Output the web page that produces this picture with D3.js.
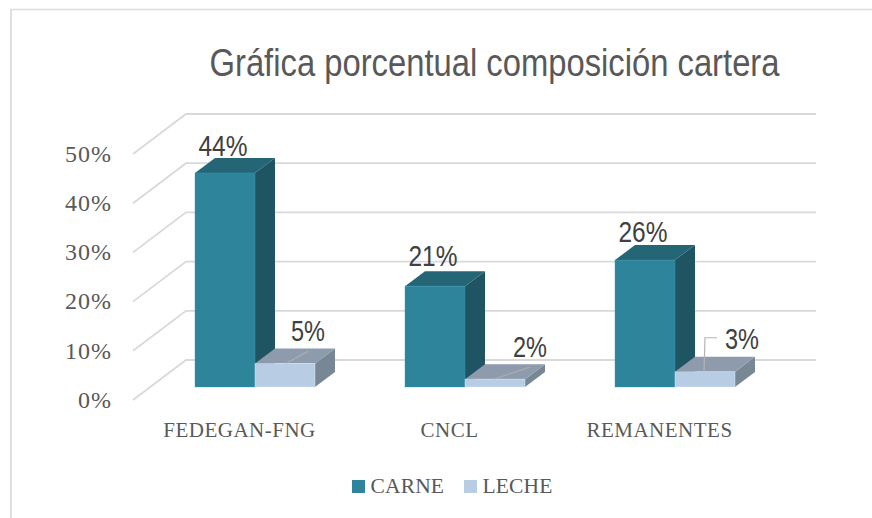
<!DOCTYPE html>
<html><head><meta charset="utf-8">
<script src="https://cdn.jsdelivr.net/npm/d3@7"></script>
<style>html,body{margin:0;padding:0;background:#fff}svg{display:block}</style>
</head><body><svg id="c" width="872" height="518"></svg>
<script>
const categories = ["FEDEGAN-FNG", "CNCL", "REMANENTES"];
const carne = [43.5, 20.5, 25.8];
const leche = [4.8, 1.6, 3.1];
const yTicks = [0, 10, 20, 30, 40, 50];
const seriesNames = ["CARNE", "LECHE"];
const titleText = "Gráfica porcentual composición cartera";

const svg = d3.select("#c");
const sans = "'Liberation Sans',Arial,sans-serif", serif = "'Liberation Serif',serif";
const C = {carne:{f:"#2E849B",t:"#246675",s:"#1F5563"}, leche:{f:"#B8CCE4",t:"#8E9BAD",s:"#788794"}};

const y = d3.scaleLinear().domain([0,50]).range([387,141]);
const x = d3.scaleBand().domain(categories).range([150,780]).paddingInner(0).paddingOuter(0);
const barW = 60, dx = 20, dy = 15;
const barX = c => x(c) + 45;
const pct = v => Math.round(v) + "%";

// frame
svg.append("path").attr("d","M872,9.5H10").attr("fill","none").attr("stroke","#dcdcdc").attr("stroke-width",1.3);
svg.append("path").attr("d","M11,9V518").attr("fill","none").attr("stroke","#dfdfdf").attr("stroke-width",2);

// walls
const g = svg.append("g").attr("stroke","#d9d9d9").attr("stroke-width",1.8).attr("fill","none");
yTicks.forEach(v=>{
  g.append("path").attr("d",`M133,${y(v)+13}L186,${y(v)-27}H816`);
});

// bars
function box(sel,xx,val,col){
  const t=y(val), b=y(0), r=xx+barW;
  sel.append("path").attr("d",`M${r},${t}l${dx},${-dy}V${b-dy}L${r},${b}Z`).attr("fill",col.s);
  sel.append("path").attr("d",`M${xx},${t}l${dx},${-dy}H${r+dx}L${r},${t}Z`).attr("fill",col.t);
  sel.append("rect").attr("x",xx).attr("y",t).attr("width",barW).attr("height",b-t).attr("fill",col.f)
    .attr("stroke",d3.color(col.f).brighter(0.5)).attr("stroke-opacity",0.5).attr("stroke-width",0.8);
}
const bars = svg.append("g");
categories.forEach((c,i)=>{
  box(bars,barX(c),carne[i],C.carne);
  box(bars,barX(c)+barW,leche[i],C.leche);
});

// leader lines
const leadStart=[31,29], leadEnd=[53,65];
const lead = svg.append("g").attr("fill","none").attr("stroke","#b4b4b4").attr("stroke-width",1.2);
categories.forEach((c,i)=>{
  const bx=barX(c)+barW, t=y(leche[i]);
  if(i<2){
    lead.append("path").attr("d",`M${bx+leadStart[i]},${t}L${bx+leadEnd[i]},${t-12}`).attr("stroke-opacity",.7);
  } else {
    lead.append("path").attr("d",`M${bx+29},${t}L${bx+30},${t-34}H${bx+42}`);
  }
});

// data labels
function dl(txt,cx,base,w){
  svg.append("text").text(txt).attr("x",cx).attr("y",base).attr("text-anchor","middle")
    .attr("font-family",sans).attr("font-size",29).attr("fill","#404040")
    .attr("textLength",w).attr("lengthAdjust","spacingAndGlyphs");
}
const carneRise=[17,20,18], lecheShift=[53,65,67];
categories.forEach((c,i)=>{
  dl(pct(carne[i]),barX(c)+28,y(carne[i])-carneRise[i],49);
  dl(pct(leche[i]),barX(c)+barW+lecheShift[i],y(leche[i])-22.5,34);
});

// axes
const ax = svg.append("g").attr("transform","translate(112,13)")
  .call(d3.axisLeft(y).tickValues(yTicks).tickFormat(d=>d+"%").tickSize(0).tickPadding(0));
ax.select(".domain").remove();
ax.selectAll("text").attr("font-family",serif).attr("font-size",24).attr("letter-spacing",1).attr("fill","#595959").attr("dy","0.3em");

const bx = svg.append("g").attr("transform","translate(-15.5,387)")
  .call(d3.axisBottom(x).tickSize(0).tickPadding(0));
bx.select(".domain").remove();
bx.selectAll("text").attr("font-family",serif).attr("font-size",21).attr("letter-spacing",0.5).attr("fill","#595959").attr("y",50).attr("dy",0);

// title
svg.append("text").text(titleText).attr("x",494.5).attr("y",76).attr("text-anchor","middle")
  .attr("font-family",sans).attr("font-size",38).attr("fill","#595959")
  .attr("textLength",570).attr("lengthAdjust","spacingAndGlyphs");

// legend
const lx=[352,464];
seriesNames.forEach((s,i)=>{
  svg.append("rect").attr("x",lx[i]).attr("y",480).attr("width",13).attr("height",13).attr("fill",i?C.leche.f:C.carne.f);
  svg.append("text").text(s).attr("x",lx[i]+18.5).attr("y",493).attr("font-family",serif).attr("font-size",21.5).attr("letter-spacing",0.15).attr("fill","#595959");
});
</script></body></html>
